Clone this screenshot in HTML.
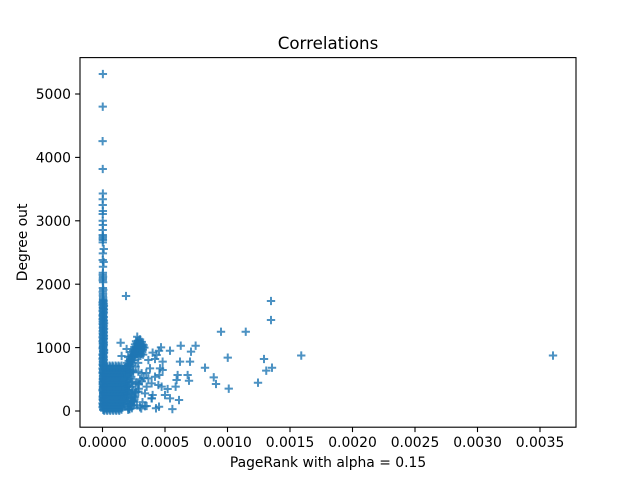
<!DOCTYPE html>
<html>
<head>
<meta charset="utf-8">
<title>Correlations</title>
<style>
html,body{margin:0;padding:0;background:#fff;}
svg{display:block;}
text{font-family:"DejaVu Sans",sans-serif;fill:#000;}
</style>
</head>
<body>
<svg id="chart" width="640" height="480" viewBox="0 0 640 480" xmlns="http://www.w3.org/2000/svg">
  <rect x="0" y="0" width="640" height="480" fill="#fff"/>
  <g id="marks"></g>
  <g id="xticks"></g>
  <g id="yticks"></g>
  <rect x="80" y="57.6" width="496" height="369.6" fill="none" stroke="#000" stroke-width="1.1"/>
  <text x="328" y="49" text-anchor="middle" font-size="16.67">Correlations</text>
  <text x="328" y="467" text-anchor="middle" font-size="13.89">PageRank with alpha = 0.15</text>
  <text transform="translate(27,242.4) rotate(-90)" text-anchor="middle" font-size="13.89">Degree out</text>
</svg>
<script>
// PageRank values, in millionths
const pageRankMicro = [
  // top of the column
  3,2,1,2,3,2,2,3,2,2,
  3,2,2,3,2,3,2,10,3,2,
  9,4,3,2,4,3,2,5,3,6,
  2,4,3,5,
  // main column
  4,8,1,6,11,3,7,2,9,5,
  1,10,4,7,2,12,5,8,3,6,
  2,9,5,11,1,7,4,10,3,8,
  6,2,12,5,9,1,7,3,10,4,
  8,2,6,11,3,7,1,9,5,12,
  4,8,2,6,10,3,7,1,9,5,
  11,4,8,2,6,13,3,7,1,9,
  // main column, in-between values
  6,3,9,1,7,4,11,2,8,5,
  3,7,1,10,5,2,8,4,12,6,
  9,2,6,3,11,7,1,5,10,4,
  2,8,5,12,3,6,9,1,7,4,
  7,3,10,1,5,8,2,12,4,6,
  3,9,5,2,11,7,4,1,8,6,
  5,2,9,4,12,1,7,3,10,6,
  // dense mass, rows from the bottom up
  14,38,62,86,110,134,
  26,50,74,98,122,146,
  13,37,63,85,111,135,157,
  27,49,75,99,121,147,168,
  15,39,61,87,109,133,159,180,
  25,51,73,97,123,145,171,188,
  14,38,62,86,110,134,158,182,
  26,50,74,98,122,146,170,192,
  13,37,63,85,111,135,157,181,
  27,49,75,99,121,147,169,190,
  15,39,61,87,109,133,159,183,
  25,51,73,97,123,145,171,186,
  14,38,62,86,110,134,158,180,
  26,50,74,98,122,146,170,
  13,37,63,85,111,135,180,
  // dense mass, in-between rows
  8,32,56,80,104,128,152,
  20,44,68,92,116,140,160,
  8,32,56,80,104,128,152,172,
  20,44,68,92,116,140,164,186,
  8,32,56,80,104,128,152,176,196,
  20,44,68,92,116,140,164,188,
  8,32,56,80,104,128,152,176,198,
  20,44,68,92,116,140,164,188,
  8,32,56,80,104,128,152,176,198,
  20,44,68,92,116,140,164,188,
  8,32,56,80,104,128,152,176,198,
  20,44,68,92,116,140,164,188,
  8,32,56,80,104,128,152,176,196,
  20,44,68,92,116,140,164,188,
  8,32,56,80,104,128,152,
  // ridge rising to the blob
  180,192,205,215,228,240,196,210,222,235,248,
  205,222,238,250,262,275,230,245,258,272,
  200,212,226,238,252,218,232,246,190,
  // blob
  255,270,285,300,315,325,262,278,292,308,322,
  258,272,288,302,318,265,280,295,310,325,
  260,275,290,305,320,268,284,298,314,278,300,
  250,265,282,296,312,328,255,272,288,304,320,335,
  // fringe right of the mass
  205,220,235,250,210,225,240,255,200,215,
  230,245,260,205,220,235,210,225,240,200,
  215,230,245,205,220,200,215,230,205,220,
  // scattered points near the mass
  145,153,193,188,
  468,540,626,708,745,452,401,433,481,620,700,820,
  420,367,460,481,380,601,681,455,420,367,313,287,
  593,692,585,521,447,473,393,353,
  500,540,612,559,452,428,353,394,401,393,340,287,
  260,247,225,207,340,310,300,280,330,350,
  215,230,250,270,290,205,225,245,265,285,
  210,235,255,275,300,320,240,265,290,315,
  // far points
  1348,1348,948,1146,1590,1002,1292,1356,1310,
  890,908,1010,1244,3604
];

// Degree out values, matched by position with pageRankMicro
const degreeOut = [
  // top of the column
  5315,4800,4256,3817,3430,3340,3250,3155,3107,3000,
  2934,2855,2776,2750,2720,2697,2660,2555,2487,2382,
  2350,2276,2180,2150,2120,2090,2060,2030,1940,1910,
  1880,1850,1820,1790,
  // main column
  1760,1735,1710,1685,1660,1635,1610,1585,1560,1535,
  1510,1485,1460,1435,1410,1385,1360,1335,1310,1285,
  1260,1235,1210,1185,1160,1135,1110,1085,1060,1035,
  1010,985,960,935,910,885,860,835,810,785,
  760,735,710,685,660,635,610,585,560,535,
  510,485,460,435,410,385,360,335,310,285,
  260,235,210,185,160,135,110,85,60,30,
  // main column, in-between values
  1748,1723,1698,1673,1648,1623,1598,1573,1548,1523,
  1498,1473,1448,1423,1398,1373,1348,1323,1298,1273,
  1248,1223,1198,1173,1148,1123,1098,1073,1048,1023,
  998,973,948,923,898,873,848,823,798,773,
  748,723,698,673,648,623,598,573,548,523,
  498,473,448,423,398,373,348,323,298,273,
  248,223,198,173,148,123,98,73,48,20,
  // dense mass, rows from the bottom up
  4,4,4,4,4,4,
  40,40,40,40,40,40,
  85,85,85,85,85,85,85,
  130,130,130,130,130,130,130,
  180,180,180,180,180,180,180,180,
  230,230,230,230,230,230,230,230,
  280,280,280,280,280,280,280,280,
  330,330,330,330,330,330,330,330,
  380,380,380,380,380,380,380,380,
  430,430,430,430,430,430,430,430,
  480,480,480,480,480,480,480,480,
  530,530,530,530,530,530,530,530,
  580,580,580,580,580,580,580,580,
  635,635,635,635,635,635,635,
  700,700,700,700,700,700,650,
  // dense mass, in-between rows
  22,22,22,22,22,22,22,
  62,62,62,62,62,62,62,
  108,108,108,108,108,108,108,108,
  155,155,155,155,155,155,155,155,
  205,205,205,205,205,205,205,205,205,
  255,255,255,255,255,255,255,255,
  305,305,305,305,305,305,305,305,305,
  355,355,355,355,355,355,355,355,
  405,405,405,405,405,405,405,405,405,
  455,455,455,455,455,455,455,455,
  505,505,505,505,505,505,505,505,505,
  555,555,555,555,555,555,555,555,
  605,605,605,605,605,605,605,605,605,
  660,660,660,660,660,660,660,660,
  715,715,715,715,715,715,715,
  // ridge rising to the blob
  680,700,720,740,770,800,760,790,820,850,880,
  850,860,880,900,930,960,930,950,970,990,
  720,735,795,830,850,700,720,800,640,
  // blob
  1010,1020,1030,1040,1030,1010,970,980,990,980,970,
  930,940,950,940,930,890,900,910,900,890,
  1050,1070,1060,1055,1050,1100,1110,1100,1090,1172,1130,
  880,1000,1045,1015,1000,1040,940,915,860,870,960,1000,
  // fringe right of the mass
  70,100,45,90,170,200,160,210,280,320,
  270,330,290,390,430,380,470,510,460,550,
  590,540,610,650,640,120,30,135,20,610,
  // scattered points near the mass
  1077,868,978,1814,
  1004,951,1030,936,1030,951,920,883,778,778,778,683,
  820,804,673,647,673,568,568,568,541,515,594,620,
  489,478,384,347,410,384,436,384,
  252,200,173,30,68,43,79,200,252,200,278,305,
  226,147,110,50,75,40,500,430,520,600,
  30,80,150,300,420,560,620,640,700,760,
  330,260,180,90,60,140,230,450,350,470,
  // far points
  1735,1435,1250,1250,875,841,820,683,636,
  531,426,352,446,875
];

const xTickValues = [0, 0.0005, 0.001, 0.0015, 0.002, 0.0025, 0.003, 0.0035];
const xTickLabels = ["0.0000", "0.0005", "0.0010", "0.0015", "0.0020", "0.0025", "0.0030", "0.0035"];
const yTickValues = [0, 1000, 2000, 3000, 4000, 5000];
const yTickLabels = ["0", "1000", "2000", "3000", "4000", "5000"];

const NS = 'http://www.w3.org/2000/svg';
function xScale(v) { return 102.5 + v * 125000; }
function yScale(v) { return 411 - v * 0.0634; }

const marks = document.getElementById('marks');
const halfMarker = 4.17;
for (let i = 0; i < pageRankMicro.length; i++) {
  const px = xScale(pageRankMicro[i] * 1e-6);
  const py = yScale(degreeOut[i]);
  const p = document.createElementNS(NS, 'path');
  
  
  p.setAttribute('d', 'M' + (px - halfMarker) + ' ' + py + 'H' + (px + halfMarker) + 'M' + px + ' ' + (py - halfMarker) + 'V' + (py + halfMarker));
  p.setAttribute('fill', 'none');
  p.setAttribute('stroke', '#1f77b4');
  p.setAttribute('stroke-width', '2');
  p.setAttribute('stroke-opacity', '0.8');
  marks.appendChild(p);
}

const xticks = document.getElementById('xticks');
xTickValues.forEach(function (v, i) {
  const px = xScale(v);
  const t = document.createElementNS(NS, 'line');
  
  
  t.setAttribute('x1', px);
  t.setAttribute('x2', px);
  t.setAttribute('y1', 427.2);
  t.setAttribute('y2', 432.1);
  t.setAttribute('stroke', '#000');
  t.setAttribute('stroke-width', '1.1');
  xticks.appendChild(t);
  const l = document.createElementNS(NS, 'text');
  
  
  l.setAttribute('x', px);
  l.setAttribute('y', 447);
  l.setAttribute('text-anchor', 'middle');
  l.setAttribute('font-size', '13.89');
  l.textContent = xTickLabels[i];
  xticks.appendChild(l);
});

const yticks = document.getElementById('yticks');
yTickValues.forEach(function (v, i) {
  const py = yScale(v);
  const t = document.createElementNS(NS, 'line');
  
  
  t.setAttribute('x1', 75.1);
  t.setAttribute('x2', 80);
  t.setAttribute('y1', py);
  t.setAttribute('y2', py);
  t.setAttribute('stroke', '#000');
  t.setAttribute('stroke-width', '1.1');
  yticks.appendChild(t);
  const l = document.createElementNS(NS, 'text');
  
  
  l.setAttribute('x', 71);
  l.setAttribute('y', py + 5.2);
  l.setAttribute('text-anchor', 'end');
  l.setAttribute('font-size', '13.89');
  l.textContent = yTickLabels[i];
  yticks.appendChild(l);
});
</script>
</body>
</html>
